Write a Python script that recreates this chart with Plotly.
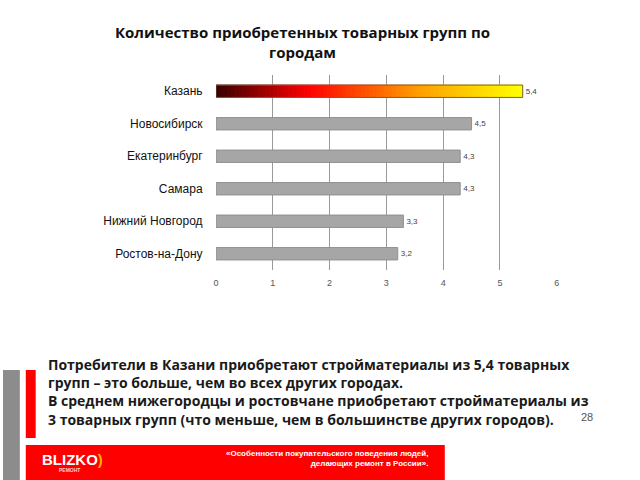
import plotly.graph_objects as go
from plotly.colors import sample_colorscale

cities = ["Казань", "Новосибирск", "Екатеринбург", "Самара", "Нижний Новгород", "Ростов-на-Дону"]
groups = [5.4, 4.5, 4.3, 4.3, 3.3, 3.2]
x_ticks = [0, 1, 2, 3, 4, 5, 6]

title = "Количество приобретенных товарных групп по<br>городам"
note = ("Потребители в Казани приобретают стройматериалы из 5,4 товарных<br>"
        "групп – это больше, чем во всех других городах.<br>"
        "В среднем нижегородцы и ростовчане приобретают стройматериалы из<br>"
        "3 товарных групп (что меньше, чем в большинстве других городов).")
footer = "«Особенности покупательского поведения людей,<br>делающих ремонт в России»."
page_no = "28"

heat = [[0, "#3a0000"], [0.3, "#ff0000"], [0.65, "#ff9a00"], [1, "#ffff00"]]

fig = go.Figure()

# leader bar drawn as a row of thin slices to fake the gradient fill
n = 80
step = groups[0] / n
slice_colors = sample_colorscale(heat, [i / (n - 1) for i in range(n)])
fig.add_trace(go.Bar(
    y=[cities[0]] * n, x=[step] * n, base=[i * step for i in range(n)],
    orientation="h", width=0.38,
    marker=dict(color=slice_colors, line=dict(color=slice_colors, width=1)),
    hoverinfo="skip", showlegend=False))

labels = [f"{v:.1f}".replace(".", ",") for v in groups]

# outline + value label for the leader
fig.add_trace(go.Bar(
    y=cities[:1], x=groups[:1], orientation="h", width=0.38,
    marker=dict(color="rgba(0,0,0,0)", line=dict(color="#7a6040", width=1)),
    text=labels[:1], textposition="outside", cliponaxis=False,
    textfont=dict(size=8, color="#444", family="Liberation Sans"),
    showlegend=False))

fig.add_trace(go.Bar(
    y=cities[1:], x=groups[1:], orientation="h", width=0.38,
    marker=dict(color="#a6a6a6", line=dict(color="#8f8f8f", width=1)),
    text=labels[1:], textposition="outside", cliponaxis=False,
    textfont=dict(size=8, color="#444", family="Liberation Sans"),
    showlegend=False))

fig.update_layout(
    width=640, height=480, barmode="overlay",
    margin=dict(l=0, r=0, t=0, b=0),
    paper_bgcolor="white", plot_bgcolor="white",
    font=dict(family="Liberation Sans", color="#222"),
    xaxis=dict(domain=[215 / 640, 559 / 640], range=[0, 6], tickvals=x_ticks,
               showgrid=True, gridcolor="#9a9a9a", gridwidth=1, zeroline=False,
               showline=False, tickfont=dict(size=9, color="#555"), ticks="outside",
               ticklen=4, tickcolor="white"),
    yaxis=dict(domain=[1 - 270 / 480, 1 - 75 / 480], categoryorder="array",
               categoryarray=cities, autorange="reversed", showgrid=False,
               showline=False, ticks="outside", ticklen=10, tickcolor="white",
               tickfont=dict(size=12, color="#111")),
)

fig.add_annotation(text=f"<b>{title}</b>", x=302 / 640, y=1 - 42 / 480, xref="paper", yref="paper",
                   yanchor="middle", showarrow=False,
                   font=dict(family="Open Sans", size=15, color="#111"), align="center")

fig.add_annotation(text=f"<b>{note}</b>", x=44 / 640, y=1 - 392 / 480, xref="paper", yref="paper",
                   xanchor="left", yanchor="middle", showarrow=False, align="left",
                   borderpad=0, font=dict(family="Open Sans", size=14, color="#1a1a1a"))

# slide decoration
fig.add_shape(type="rect", xref="paper", yref="paper", x0=0, x1=17 / 640, y0=0, y1=1 - 370 / 480,
              fillcolor="#8c8c8c", line_width=0)
fig.add_shape(type="rect", xref="paper", yref="paper", x0=23 / 640, x1=33 / 640,
              y0=1 - 438 / 480, y1=1 - 370 / 480, fillcolor="#ff0000", line_width=0)
fig.add_shape(type="rect", xref="paper", yref="paper", x0=23 / 640, x1=446 / 640,
              y0=0, y1=1 - 445 / 480, fillcolor="#ff0000", line_width=0)

fig.add_annotation(text="<b>BLIZKO</b><span style='color:#ffb000'><b>)</b></span>",
                   x=37 / 640, y=1 - 459 / 480, xref="paper", yref="paper", xanchor="left",
                   yanchor="middle", showarrow=False,
                   font=dict(family="Liberation Sans", size=15, color="white"))
fig.add_annotation(text="<b>РЕМОНТ</b>", x=55 / 640, y=1 - 470 / 480, xref="paper", yref="paper",
                   xanchor="left", yanchor="middle", showarrow=False,
                   font=dict(family="Liberation Sans", size=5, color="#ffd0c0"))
fig.add_annotation(text=f"<b>{footer}</b>", x=431 / 640, y=1 - 458 / 480, xref="paper", yref="paper",
                   xanchor="right", yanchor="middle", align="right", showarrow=False,
                   font=dict(family="Liberation Sans Narrow, Liberation Sans", size=8, color="white"))
fig.add_annotation(text=page_no, x=598 / 640, y=1 - 417 / 480, xref="paper", yref="paper",
                   yanchor="middle", showarrow=False,
                   font=dict(family="Liberation Sans", size=11, color="#555"))

fig.write_html("out.html", config={"displayModeBar": False},
               post_script="document.body.style.margin='0';")
